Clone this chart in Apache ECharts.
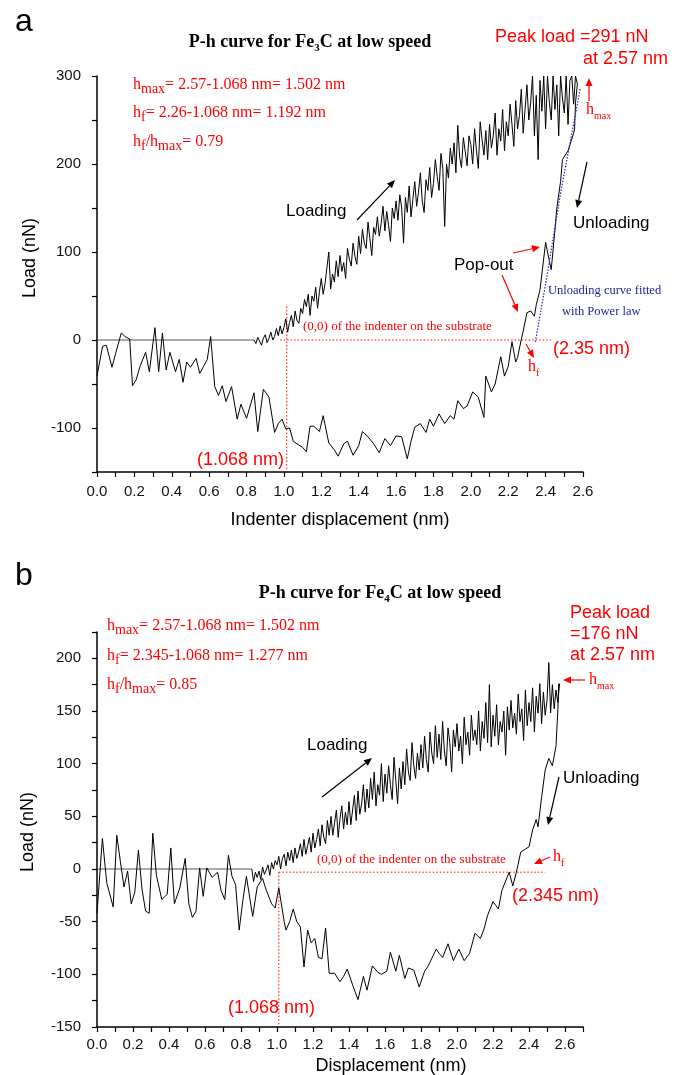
<!DOCTYPE html>
<html><head><meta charset="utf-8">
<script src="https://cdn.jsdelivr.net/npm/echarts@6/dist/echarts.min.js"></script>
<style>html,body{margin:0;padding:0;background:#fff}#c{width:695px;height:1075px}</style>
</head><body><div id="c"></div>
<script>
// ---------- Panel a (Fe3C) ----------
const A_xTicks = [0,0.2,0.4,0.6,0.8,1.0,1.2,1.4,1.6,1.8,2.0,2.2,2.4,2.6];
const A_yTicks = [-100,0,100,200,300];
const A_baseline = [[0,0],[0.84,0]];
const A_loadX0 = 0.84, A_loadStep = 0.01;
const A_load = [0,-4,3,1,-6,2,
 6,-3,2,9,0,4,13,5,16,7,
 14,24,9,20,28,15,33,22,19,36,
 30,46,38,52,28,50,44,60,36,55,
 70,52,64,82,100,58,75,66,90,72,
 96,78,88,70,104,92,84,110,95,86,
 118,98,126,110,104,134,115,96,128,120,
 140,118,132,152,124,146,130,112,150,138,
 158,136,165,150,110,162,145,175,140,160,
 180,152,168,190,158,145,182,170,196,162,
 178,205,186,170,212,195,129,200,184,218,
 200,224,190,244,208,196,230,214,198,232,
 222,200,240,215,195,248,228,210,238,205,
 245,218,232,258,210,240,226,262,215,248,
 232,268,245,220,272,240,255,285,235,262,
 290,250,270,300,232,278,205,295,260,300,
 240,300,270,250,300,262,290,232,300,275,
 258,300,245,295,300,268,300,291];
const A_unload = [[2.57,291],[2.56,270],[2.555,240],[2.55,235],[2.52,215],[2.49,205],[2.48,180],[2.46,150],[2.45,125],[2.43,80],[2.41,100],[2.40,111],[2.38,75],[2.37,57],[2.35,40],[2.34,27],[2.32,33],[2.30,31],[2.28,10],[2.27,1],[2.25,-20],[2.24,-25],[2.22,-2],[2.20,-30],[2.18,-41],[2.16,-19],[2.13,-50],[2.11,-59],[2.08,-41],[2.07,-88],[2.04,-65],[2.01,-59],[1.98,-75],[1.96,-78],[1.93,-69],[1.91,-90],[1.89,-86],[1.86,-95],[1.83,-84],[1.80,-98],[1.78,-90],[1.76,-105],[1.73,-95],[1.70,-99],[1.68,-115],[1.66,-135],[1.63,-110],[1.60,-109],[1.57,-120],[1.54,-112],[1.51,-128],[1.48,-118],[1.45,-110],[1.42,-104],[1.40,-120],[1.37,-131],[1.34,-115],[1.32,-118],[1.29,-132],[1.27,-125],[1.24,-117],[1.21,-86],[1.19,-104],[1.16,-98],[1.14,-98],[1.12,-127],[1.10,-122],[1.07,-118],[1.05,-115],[1.03,-100],[1.01,-101],[0.99,-90],[0.97,-95],[0.95,-105],[0.92,-65],[0.89,-56],[0.86,-104],[0.84,-60],[0.80,-89],[0.77,-73],[0.75,-90],[0.72,-53],[0.69,-70],[0.67,-52],[0.65,-63],[0.63,-53],[0.608,4],[0.59,-22],[0.57,-30],[0.55,-38],[0.53,-21],[0.50,-31],[0.48,-25],[0.46,-48],[0.44,-22],[0.42,-36],[0.39,-14],[0.37,-34],[0.35,8],[0.33,-36],[0.31,14],[0.28,-36],[0.26,-14],[0.23,-30],[0.21,-45],[0.19,-52],[0.175,1],[0.15,4],[0.13,8],[0.10,-15],[0.08,-31],[0.05,-6],[0.03,-7],[0.0,-41]];
const A_fit = [[2.345,-2],[2.41,76],[2.48,167],[2.585,285]];
const A_zeroRef = [[0.98,0],[2.43,0]];
const A_vertRef = [[1.015,38],[1.015,-150]];

// ---------- Panel b (Fe4C) ----------
const B_xTicks = [0,0.2,0.4,0.6,0.8,1.0,1.2,1.4,1.6,1.8,2.0,2.2,2.4,2.6];
const B_yTicks = [-150,-100,-50,0,50,100,150,200];
const B_baseline = [[0,0],[0.86,0]];
const B_loadX0 = 0.86, B_loadStep = 0.01;
const B_load = [0,-12,-3,-8,
 -2,-10,2,-5,-1,4,-6,6,0,8,
 4,12,0,10,14,3,16,8,18,6,
 20,10,16,24,12,28,14,22,30,16,
 34,20,28,38,22,42,30,24,46,32,
 50,32,44,56,30,48,60,38,54,42,
 64,42,56,70,46,74,52,62,80,54,
 76,58,86,66,92,60,80,70,100,64,
 90,72,98,80,66,106,84,62,96,76,
 102,80,114,92,84,120,98,86,110,94,
 118,96,126,104,92,130,110,100,136,106,
 128,104,140,112,98,134,120,92,132,116,
 138,112,126,100,144,118,130,108,146,122,
 132,118,150,112,140,124,158,120,175,116,
 146,126,156,118,140,130,150,108,154,132,
 160,134,148,128,166,140,152,122,170,136,
 158,140,172,130,164,148,176,138,168,146,
 160,196,148,175,152,170,158,176];
const B_unload = [[2.565,176],[2.56,150],[2.55,117],[2.53,98],[2.51,105],[2.49,94],[2.47,68],[2.45,40],[2.44,47],[2.42,37],[2.40,21],[2.38,19],[2.354,16],[2.33,-3],[2.31,-16],[2.29,-3],[2.25,-20],[2.23,-38],[2.20,-31],[2.17,-44],[2.15,-57],[2.13,-66],[2.10,-61],[2.07,-80],[2.04,-87],[2.01,-76],[1.98,-87],[1.95,-71],[1.92,-84],[1.90,-80],[1.885,-76],[1.84,-92],[1.82,-97],[1.79,-112],[1.76,-96],[1.73,-94],[1.71,-104],[1.68,-82],[1.66,-97],[1.63,-79],[1.61,-97],[1.58,-100],[1.56,-98],[1.53,-92],[1.50,-115],[1.48,-102],[1.45,-124],[1.42,-110],[1.39,-95],[1.37,-102],[1.35,-107],[1.32,-99],[1.29,-99],[1.27,-56],[1.25,-85],[1.23,-84],[1.21,-66],[1.19,-70],[1.17,-58],[1.15,-93],[1.13,-55],[1.11,-50],[1.09,-38],[1.07,-50],[1.05,-58],[1.04,-50],[1.01,-18],[0.99,-37],[0.97,-33],[0.94,-20],[0.92,-9],[0.89,-17],[0.865,-45],[0.83,-7],[0.81,-30],[0.79,-58],[0.77,-15],[0.75,-7],[0.73,13],[0.71,-29],[0.69,-21],[0.67,-3],[0.64,-8],[0.61,1],[0.59,-26],[0.57,1],[0.55,-40],[0.53,-46],[0.51,-33],[0.49,10],[0.46,-18],[0.43,-33],[0.41,20],[0.39,-24],[0.36,-29],[0.33,-6],[0.31,34],[0.29,-42],[0.27,-40],[0.25,-19],[0.23,18],[0.21,-22],[0.19,-33],[0.17,-2],[0.15,-17],[0.13,7],[0.11,32],[0.09,-36],[0.054,-13],[0.03,29],[0.0,-42]];
const B_zeroRef = [[1.01,-3],[2.49,-3]];
const B_vertRef = [[1.01,-3],[1.01,-150]];

// ---------- build ----------
const RED = '#ff0000';
const SANS = 'Liberation Sans', SERIF = 'Liberation Serif';
const chart = echarts.init(document.getElementById('c'), null, {renderer:'canvas'});

function seq(x0, step, ys){ return ys.map((v,i)=>[+(x0+i*step).toFixed(3), v]); }
function lineS(data, idx, color, width, type, z){
  return {type:'line', xAxisIndex:idx, yAxisIndex:idx, data, showSymbol:false, symbol:'none',
    silent:true, animation:false, z:z||2, lineStyle:{color, width, type:type||'solid'}};
}
function xAxisDef(idx, max, ticks, margin){
  return {type:'value', gridIndex:idx, min:0, max, interval:0.1,
    axisLine:{onZero:false, lineStyle:{color:'#000', width:1.5}},
    axisTick:{length:5, lineStyle:{color:'#000', width:1.2}},
    splitLine:{show:false},
    axisLabel:{margin, color:'#111', fontFamily:SANS, fontSize:15,
      formatter:v=>{ const r=Math.round(v*10)/10; return ticks.some(t=>Math.abs(t-r)<1e-6)? r.toFixed(1):''; }}};
}
function yAxisDef(idx, min, max, interval, ticks){
  return {type:'value', gridIndex:idx, min, max, interval,
    axisLine:{onZero:false, lineStyle:{color:'#000', width:1.5}},
    axisTick:{length:5, lineStyle:{color:'#000', width:1.2}},
    splitLine:{show:false},
    axisLabel:{margin:16, color:'#111', fontFamily:SANS, fontSize:15,
      formatter:v=>{ const r=Math.round(v); return ticks.indexOf(r)>=0 ? String(r):''; }}};
}

const option = {
  backgroundColor:'#fff', animation:false,
  grid:[
    {left:97, top:76, width:486, height:396, containLabel:false, outerBoundsMode:'none'},
    {left:97, top:632, width:486, height:395, containLabel:false, outerBoundsMode:'none'}
  ],
  xAxis:[xAxisDef(0, 2.6, A_xTicks, 12), xAxisDef(1, 2.7, B_xTicks, 10)],
  yAxis:[yAxisDef(0, -150, 300, 50, A_yTicks), yAxisDef(1, -150, 225, 25, B_yTicks)],
  series:[
    lineS(A_zeroRef, 0, RED, 1, [1.5,2], 1),
    lineS(A_vertRef, 0, RED, 1, [1.5,2], 1),
    lineS(A_baseline, 0, '#555', 1),
    lineS(seq(A_loadX0, A_loadStep, A_load), 0, '#000', 1),
    lineS(A_unload, 0, '#000', 1),
    lineS(A_fit, 0, '#2424b8', 1.2, [1.5,1.5], 3),
    lineS(B_zeroRef, 1, RED, 1, [1.5,2], 1),
    lineS(B_vertRef, 1, RED, 1, [1.5,2], 1),
    lineS(B_baseline, 1, '#555', 1),
    lineS(seq(B_loadX0, B_loadStep, B_load), 1, '#000', 1),
    lineS(B_unload, 1, '#000', 1)
  ]
};

// ---------- annotations ----------
const RR = {
  n:{fill:RED, fontFamily:SERIF, fontSize:16, lineHeight:22, verticalAlign:'middle'},
  s:{fill:RED, fontFamily:SERIF, fontSize:14, lineHeight:8, verticalAlign:'bottom'},
  t:{fill:RED, fontFamily:SERIF, fontSize:10, lineHeight:6, verticalAlign:'bottom'},
  b:{fill:'#000', fontFamily:SERIF, fontWeight:'bold', fontSize:18, lineHeight:24, verticalAlign:'middle'},
  bs:{fill:'#000', fontFamily:SERIF, fontWeight:'bold', fontSize:11, lineHeight:4, verticalAlign:'bottom'}
};
function T(x, y, text, o){
  o = o || {};
  const st = {text, fill:o.fill||'#000', fontFamily:o.family||SANS, fontSize:o.size||18,
    fontWeight:o.weight||'normal', textAlign:o.align||'left', textVerticalAlign:'middle'};
  if (o.rich) st.rich = RR;
  const el = {type:'text', x, y, silent:true, z:10, style:st};
  if (o.rot) el.rotation = o.rot;
  return el;
}
function arrow(x1,y1,x2,y2,color){
  const a = Math.atan2(y2-y1, x2-x1), L=8, W=3.5;
  const bx = x2-L*Math.cos(a), by = y2-L*Math.sin(a);
  const px = -Math.sin(a)*W, py = Math.cos(a)*W;
  return [
    {type:'line', silent:true, z:10, shape:{x1,y1,x2:bx,y2:by}, style:{stroke:color, lineWidth:1.2}},
    {type:'polygon', silent:true, z:10, shape:{points:[[x2,y2],[bx+px,by+py],[bx-px,by-py]]}, style:{fill:color}}
  ];
}
const G = [];
// panel a
G.push(T(15, 22, 'a', {size:32}));
G.push(T(310, 42, '{b|P-h curve for Fe}{bs|3}{b|C at low speed}', {rich:true, align:'center'}));
G.push(T(133, 85, '{n|h}{s|max}{n|= 2.57-1.068 nm= 1.502 nm}', {rich:true}));
G.push(T(133, 113, '{n|h}{s|f}{n|= 2.26-1.068 nm= 1.192 nm}', {rich:true}));
G.push(T(133, 142, '{n|h}{s|f}{n|/h}{s|max}{n|= 0.79}', {rich:true}));
G.push(T(495, 37, 'Peak load =291 nN', {fill:RED}));
G.push(T(668, 59, 'at 2.57 nm', {fill:RED, align:'right'}));
G.push(T(586, 110, '{n|h}{t|max}', {rich:true}));
G.push(T(286, 211, 'Loading', {size:17}));
G.push(T(573, 223, 'Unloading', {size:17}));
G.push(T(454, 265, 'Pop-out', {size:17}));
G.push(T(548, 291, 'Unloading curve fitted', {family:SERIF, size:12.5, fill:'#1c1c9a'}));
G.push(T(562, 312, 'with Power law', {family:SERIF, size:12.5, fill:'#1c1c9a'}));
G.push(T(303, 327, '(0,0) of the indenter on the substrate', {family:SERIF, size:13, fill:RED}));
G.push(T(553, 349, '(2.35 nm)', {fill:RED}));
G.push(T(528, 367, '{n|h}{t|f}', {rich:true}));
G.push(T(197, 460, '(1.068 nm)', {fill:RED}));
G.push(T(30, 258, 'Load (nN)', {align:'center', rot:Math.PI/2}));
G.push(T(340, 520, 'Indenter displacement (nm)', {align:'center'}));
G.push(...arrow(357,220,395,180,'#000'));
G.push(...arrow(587,162,577,208,'#000'));
G.push(...arrow(502,275,518,312,RED));
G.push(...arrow(513,253,540,247,RED));
G.push(...arrow(526,344,534,358,RED));
G.push(...arrow(589,101,589,78,RED));
// panel b
G.push(T(15, 576, 'b', {size:32}));
G.push(T(380, 593, '{b|P-h curve for Fe}{bs|4}{b|C at low speed}', {rich:true, align:'center'}));
G.push(T(107, 626, '{n|h}{s|max}{n|= 2.57-1.068 nm= 1.502 nm}', {rich:true}));
G.push(T(107, 656, '{n|h}{s|f}{n|= 2.345-1.068 nm= 1.277 nm}', {rich:true}));
G.push(T(107, 685, '{n|h}{s|f}{n|/h}{s|max}{n|= 0.85}', {rich:true}));
G.push(T(570, 613, 'Peak load', {fill:RED}));
G.push(T(570, 634, '=176 nN', {fill:RED}));
G.push(T(570, 655, 'at 2.57 nm', {fill:RED}));
G.push(T(589, 680, '{n|h}{t|max}', {rich:true}));
G.push(T(307, 745, 'Loading', {size:17}));
G.push(T(563, 778, 'Unloading', {size:17}));
G.push(T(317, 860, '(0,0) of the indenter on the substrate', {family:SERIF, size:13, fill:RED}));
G.push(T(553, 857, '{n|h}{t|f}', {rich:true}));
G.push(T(512, 896, '(2.345 nm)', {fill:RED}));
G.push(T(228, 1008, '(1.068 nm)', {fill:RED}));
G.push(T(28, 832, 'Load (nN)', {align:'center', rot:Math.PI/2}));
G.push(T(391, 1066, 'Displacement (nm)', {align:'center'}));
G.push(...arrow(322,797,372,758,'#000'));
G.push(...arrow(559,777,548,825,'#000'));
G.push(...arrow(585,680,563,680,RED));
G.push(...arrow(550,857,534,864,RED));

option.graphic = {elements:G};
chart.setOption(option);
</script></body></html>
